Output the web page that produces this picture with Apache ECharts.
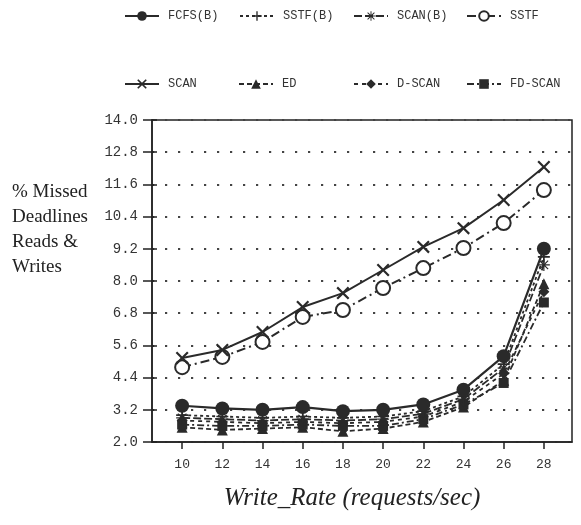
<!DOCTYPE html>
<html>
<head>
<meta charset="utf-8">
<script src="https://cdn.jsdelivr.net/npm/echarts@6/dist/echarts.min.js"></script>
<style>
  html, body { margin: 0; padding: 0; background: #fff; }
  #chart { width: 581px; height: 525px; }
</style>
</head>
<body>
<div id="chart"></div>
<script>
// write rate (requests/sec)
const writeRate = [10, 12, 14, 16, 18, 20, 22, 24, 26, 28];

// % missed deadlines, reads & writes
const fcfsB  = [3.35, 3.25, 3.2, 3.3, 3.15, 3.2, 3.4, 3.95, 5.2, 9.2];
const sstfB  = [3.0, 2.95, 2.9, 2.95, 2.9, 2.95, 3.15, 3.7, 4.9, 8.9];
const scanB  = [2.9, 2.85, 2.8, 2.85, 2.8, 2.85, 3.05, 3.6, 4.75, 8.6];
const sstf   = [4.79, 5.17, 5.73, 6.66, 6.92, 7.74, 8.48, 9.23, 10.16, 11.39];
const scan   = [5.13, 5.43, 6.1, 7.03, 7.55, 8.41, 9.27, 9.97, 11.02, 12.25];
const ed     = [2.55, 2.45, 2.5, 2.55, 2.4, 2.5, 2.75, 3.3, 4.3, 7.9];
const dScan  = [2.8, 2.75, 2.7, 2.75, 2.7, 2.75, 2.95, 3.5, 4.55, 7.6];
const fdScan = [2.65, 2.6, 2.6, 2.65, 2.6, 2.6, 2.85, 3.4, 4.2, 7.2];

const ink = '#2a2a2a';
const mono = 'Liberation Mono';
const serif = 'Liberation Serif';

const plusPath = 'path://M4.3,0H5.7V4.3H10V5.7H5.7V10H4.3V5.7H0V4.3H4.3Z';
const starPath = 'path://M4.5,0h1v3.8l2.7-2.7.7.7-2.7,2.7h3.8v1h-3.8l2.7,2.7-.7.7-2.7-2.7v3.8h-1v-3.8l-2.7,2.7-.7-.7,2.7-2.7h-3.8v-1h3.8l-2.7-2.7.7-.7,2.7,2.7z';
const crossPath = 'path://M0,1.2L1.2,0L5,3.8L8.8,0L10,1.2L6.2,5L10,8.8L8.8,10L5,6.2L1.2,10L0,8.8L3.8,5Z';

function pairs(vals) {
  return writeRate.map((x, i) => [x, vals[i]]);
}

function makeSeries(name, vals, symbol, size, lineType, width, hollow) {
  return {
    name: name,
    type: 'line',
    data: pairs(vals),
    symbol: symbol,
    symbolSize: size,
    showAllSymbol: true,
    lineStyle: { color: ink, width: width, type: lineType },
    itemStyle: hollow
      ? { color: ink, borderColor: ink, borderWidth: 1.8 }
      : { color: ink, borderColor: ink, borderWidth: 0 },
    emphasis: { disabled: true },
    z: 2
  };
}

// one legend per entry so each sits where it is in the picture
const legendPos = [
  ['FCFS(B)', 119, 5], ['SSTF(B)', 234, 5], ['SCAN(B)', 348, 5], ['SSTF', 461, 5],
  ['SCAN', 119, 73], ['ED', 233, 73], ['D-SCAN', 348, 73], ['FD-SCAN', 461, 73]
];

const chart = echarts.init(document.getElementById('chart'), null, { renderer: 'canvas' });
chart.setOption({
  animation: false,
  title: {
    text: '% Missed\nDeadlines\nReads &\nWrites',
    left: 7,
    top: 175,
    textStyle: { fontFamily: serif, fontSize: 19, fontWeight: 'normal', color: '#222', lineHeight: 25 }
  },
  legend: legendPos.map(l => ({
    data: [l[0]],
    left: l[1],
    top: l[2],
    itemWidth: 34,
    itemHeight: 12,
    itemGap: 0,
    selectedMode: false,
    textStyle: { fontFamily: mono, fontSize: 12, color: '#333', padding: [0, 0, 0, 4] }
  })),
  grid: { left: 152, right: 9, top: 120, bottom: 83, show: true, borderColor: '#222', borderWidth: 1.5 },
  xAxis: {
    type: 'value',
    min: 8.5,
    max: 29.4,
    name: 'Write_Rate (requests/sec)',
    nameLocation: 'middle',
    nameGap: 44,
    nameTextStyle: { fontFamily: serif, fontStyle: 'italic', fontSize: 25, color: '#222', padding: [0, 20, 0, 0] },
    axisLine: { lineStyle: { color: '#222', width: 1.5 } },
    axisTick: { show: true, length: 7, customValues: writeRate, lineStyle: { color: '#222', width: 1.5 } },
    axisLabel: { customValues: writeRate, fontFamily: mono, fontSize: 13, color: '#333', margin: 16 },
    splitLine: { show: false }
  },
  yAxis: [{
    type: 'value',
    min: 2.0,
    max: 14.0,
    interval: 1.2,
    axisLine: { show: true, lineStyle: { color: '#222', width: 1.5 } },
    axisTick: { show: true, length: 9, lineStyle: { color: '#222', width: 1.5 } },
    axisLabel: {
      fontFamily: mono, fontSize: 14, color: '#333', margin: 14,
      formatter: v => v.toFixed(1)
    },
    splitLine: { show: true, lineStyle: { color: '#444', width: 2.2, type: [2.2, 10.8] } }
  }, {
    type: 'value',
    min: 2.0,
    max: 14.0,
    interval: 1.2,
    position: 'left',
    axisLine: { show: false },
    axisTick: { show: true, inside: true, length: 5, lineStyle: { color: '#222', width: 1.5 } },
    axisLabel: { show: false },
    splitLine: { show: false }
  }],
  series: [
    makeSeries('SSTF', sstf, 'emptyCircle', 14, [9, 4, 2, 4], 2, true),
    makeSeries('SCAN', scan, crossPath, 13, 'solid', 2),
    makeSeries('ED', ed, 'triangle', 11, [5, 3], 1.8),
    makeSeries('FD-SCAN', fdScan, 'rect', 10, [7, 3, 2, 3], 1.8),
    makeSeries('D-SCAN', dScan, 'diamond', 11, [4, 4], 1.8),
    makeSeries('SCAN(B)', scanB, starPath, 12, [8, 3], 1.8),
    makeSeries('SSTF(B)', sstfB, plusPath, 12, [3, 3], 1.8),
    makeSeries('FCFS(B)', fcfsB, 'circle', 14, 'solid', 2.2)
  ]
});
</script>
</body>
</html>
